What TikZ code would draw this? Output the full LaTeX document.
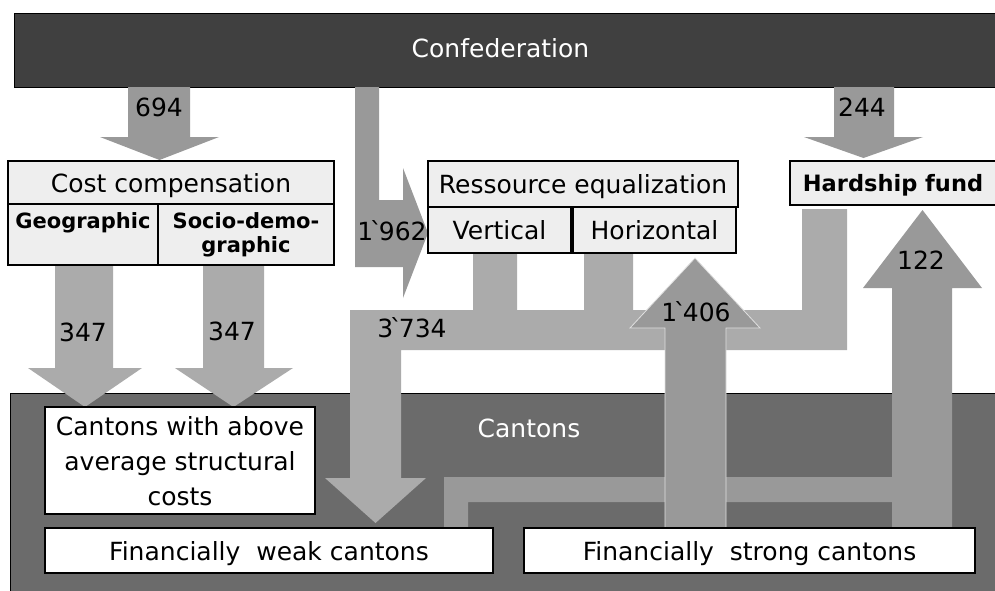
\documentclass[tikz,border=0pt]{standalone}
\usepackage{fontspec}
\setmainfont{DejaVu Sans}
\definecolor{confedfill}{HTML}{404040}
\definecolor{cantfill}{HTML}{6B6B6B}
\definecolor{flowdark}{HTML}{999999}
\definecolor{flowlight}{HTML}{ABABAB}
\definecolor{boxfill}{HTML}{EEEEEE}
\newcommand{\thsep}{\kern-0.14em ˋ\kern-0.14em}
\begin{document}
\begin{tikzpicture}[x=1pt,y=-1pt,
  box/.style={draw=black, line width=1.3pt, fill=boxfill, inner sep=0pt, outer sep=0pt,
    font=\fontsize{25}{30}\selectfont, text depth=0pt},
  wbox/.style={box, fill=white},
  lbl/.style={font=\fontsize{25}{30}\selectfont, inner sep=0pt},
  boldlbl/.style={font=\fontsize{21}{24}\selectfont\bfseries, inner sep=0pt, align=center, anchor=north},
  darkflow/.style={fill=flowdark},
  lightflow/.style={fill=flowlight}]
\clip (0,0) rectangle (995,590);
\useasboundingbox (0,0) rectangle (995,590);

% main bars
\node[draw=black, line width=1.3pt, fill=confedfill, minimum width=1000pt, minimum height=74pt,
  anchor=north west, inner sep=0pt] (confed) at (14,13) {};
\node[lbl, text=white] (confedtxt) at (500.5,48) {Confederation};
\node[draw=black, line width=1.3pt, fill=cantfill, minimum width=1000pt, minimum height=210pt,
  anchor=north west, inner sep=0pt] (cantons) at (10,393) {};
\node[lbl, text=white] (cantonstxt) at (529,428) {Cantons};

% big light flow (3'734)
\fill[lightflow] (350,310) -- (473,310) -- (473,253) -- (517,253) -- (517,310)
  -- (584,310) -- (584,253) -- (633,253) -- (633,310) -- (802,310) -- (802,209)
  -- (847,209) -- (847,350) -- (401,350) -- (401,478) -- (426,478) -- (375.5,523)
  -- (325,478) -- (350,478) -- cycle;

% band inside cantons
\fill[darkflow] (444,528) -- (444,477) -- (893,477) -- (893,502) -- (468,502) -- (468,528) -- cycle;

% 1'406 arrow
\filldraw[darkflow, draw=white!88!black, line width=0.8pt] (665,528) -- (665,328) -- (630,328)
  -- (695,258) -- (760,328) -- (726,328) -- (726,528) -- cycle;

% 122 arrow
\fill[darkflow] (892,528) -- (892,288) -- (863,288) -- (922.5,210) -- (982,288) -- (952,288)
  -- (952,528) -- cycle;

% 694 arrow
\fill[darkflow] (128,87) -- (190,87) -- (190,137) -- (219,137) -- (159.5,160) -- (100,137)
  -- (128,137) -- cycle;

% 244 arrow
\fill[darkflow] (834,87) -- (894,87) -- (894,137) -- (923,137) -- (863.5,158) -- (804,137)
  -- (834,137) -- cycle;

% 1'962 bent arrow
\fill[darkflow] (355,87) -- (379,87) -- (379,200) -- (403,200) -- (403,168) -- (428,233)
  -- (403,298) -- (403,267) -- (355,267) -- cycle;

% 347 arrows
\fill[lightflow] (55,265) -- (113,265) -- (113,368) -- (142,368) -- (85,407) -- (28,368)
  -- (55,368) -- cycle;
\fill[lightflow] (203,265) -- (264,265) -- (264,368) -- (293,368) -- (233.5,407) -- (175,368)
  -- (203,368) -- cycle;

% boxes
\node[box, minimum width=326pt, minimum height=43pt] (cost) at (171,182.5) {Cost compensation};
\node[box, minimum width=150pt, minimum height=61pt] (geo) at (83,234.5) {};
\node[box, minimum width=176pt, minimum height=61pt] (socio) at (246,234.5) {};
\node[boldlbl] (geotxt) at (83,212) {Geographic};
\node[boldlbl] (sociotxt) at (246,212) {Socio-demo-\\graphic};

\node[box, minimum width=310pt, minimum height=46pt] (ress) at (583,184) {Ressource equalization};
\node[box, minimum width=143pt, minimum height=46pt] (vert) at (499.5,230) {Vertical};
\node[box, minimum width=163pt, minimum height=46pt] (horiz) at (654.5,230) {Horizontal};

\node[box, minimum width=206pt, minimum height=44pt, font=\fontsize{22.5}{27}\selectfont\bfseries]
  (hard) at (893,183) {Hardship fund};

\node[wbox, minimum width=270pt, minimum height=107pt, align=center,
  font=\fontsize{25}{35}\selectfont] (above) at (180,460.5)
  {Cantons with above\\average structural\\costs};
\node[wbox, minimum width=448pt, minimum height=45pt] (weak) at (269,550.5) {Financially~ weak cantons};
\node[wbox, minimum width=451pt, minimum height=45pt] (strong) at (749.5,550.5) {Financially~ strong cantons};

% flow labels
\node[lbl] (l694) at (159,107) {694};
\node[lbl] (l244) at (862,107) {244};
\node[lbl] (l1962) at (392,231) {1\thsep962};
\node[lbl] (l347a) at (83,332) {347};
\node[lbl] (l347b) at (232,331) {347};
\node[lbl] (l3734) at (412,328) {3\thsep734};
\node[lbl] (l1406) at (696,312) {1\thsep406};
\node[lbl] (l122) at (921,260) {122};
\end{tikzpicture}
\end{document}
